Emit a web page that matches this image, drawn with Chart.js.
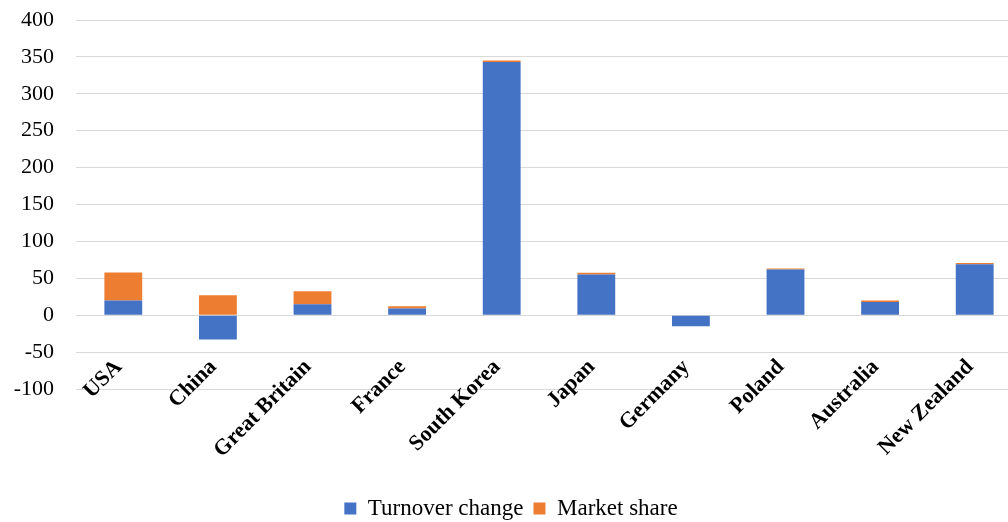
<!DOCTYPE html>
<html>
<head>
<meta charset="utf-8">
<script src="https://cdn.jsdelivr.net/npm/chart.js@4.4.0/dist/chart.umd.min.js"></script>
<style>
  html, body { margin: 0; padding: 0; background: #fff; overflow: hidden; }
  #wrap { width: 1022px; height: 522px; position: relative; }
</style>
</head>
<body>
<div id="wrap"><canvas id="myChart"></canvas></div>
<script>
const countries = ["USA", "China", "Great Britain", "France", "South Korea", "Japan", "Germany", "Poland", "Australia", "New Zealand"];
const turnoverChange = [20, -33, 15, 9, 343, 55, -15, 62, 18, 69];
const marketShare = [38, 27, 17.5, 3, 2, 2.5, 0, 1.2, 1.8, 1.8];
const yTicks = { min: -100, max: 400, step: 50 };

const data = {
  labels: countries,
  datasets: [
    {
      label: "Turnover change",
      backgroundColor: "#4472C4",
      borderWidth: 0,
      data: turnoverChange,
      barPercentage: 0.4,
      categoryPercentage: 1.0,
    },
    {
      label: "Market share",
      backgroundColor: "#ED7D31",
      borderWidth: 0,
      data: marketShare,
      barPercentage: 0.4,
      categoryPercentage: 1.0,
    },
  ],
};

const config = {
  type: "bar",
  data: data,
  options: {
    responsive: true,
    maintainAspectRatio: false,
    animation: false,
    layout: { padding: { top: 20, left: 0, right: 0, bottom: -8 } },
    scales: {
      x: {
        stacked: true,
        grid: { display: false, drawTicks: false },
        border: { display: false },
        afterFit: (scale) => {
          scale.height = 98;
        },
        ticks: {
          color: "#000",
          maxRotation: 45,
          minRotation: 45,
          mirror: true,
          padding: 16,
          labelOffset: 14,
          font: { family: "Liberation Serif", size: 22, weight: "bold" },
        },
      },
      y: {
        stacked: true,
        min: yTicks.min,
        max: yTicks.max,
        border: { display: false },
        grid: { color: "#d9d9d9", lineWidth: 1, drawTicks: false },
        afterFit: (scale) => {
          scale.width = 76;
          scale.paddingTop = 0;
        },
        ticks: {
          stepSize: yTicks.step,
          color: "#000",
          padding: 22,
          font: { family: "Liberation Serif", size: 22 },
        },
      },
    },
    plugins: {
      legend: {
        position: "bottom",
        labels: {
          color: "#000",
          boxWidth: 12,
          boxHeight: 12,
          padding: 10,
          font: { family: "Liberation Serif", size: 23 },
        },
      },
      tooltip: { enabled: false },
    },
  },
};

var myChart = new Chart(document.getElementById("myChart"), config);
</script>
</body>
</html>
